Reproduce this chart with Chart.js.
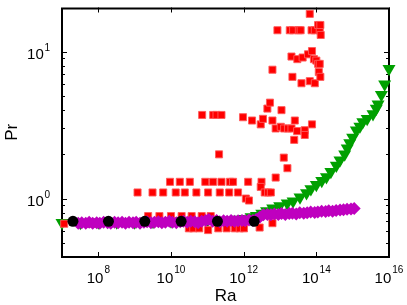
<!DOCTYPE html>
<html>
<head>
<meta charset="utf-8">
<script src="https://cdn.jsdelivr.net/npm/chart.js@4.4.1/dist/chart.umd.min.js"></script>
<style>
  html, body { margin: 0; padding: 0; background: #fff; }
  #chart { display: block; }
</style>
</head>
<body>
<canvas id="chart" width="407" height="305"></canvas>
<script>
// Axis ranges and ticks
const raRange = [1e7, 1e16];
const prRange = [0.4, 20];
const xTicks = [1e8, 1e10, 1e12, 1e14, 1e16];
const xTickExp = ['8', '10', '12', '14', '16'];
const yTicks = [1, 10];
const yTickExp = ['0', '1'];
const yMinorTicks = [0.5, 0.6, 0.7, 0.8, 0.9, 2, 3, 4, 5, 6, 7, 8, 9];

// Black circles [Ra, Pr]
const circlePoints = [
    [2e7, 0.70], [1.9e8, 0.70], [1.9e9, 0.70], [1.9e10, 0.70], [1.9e11, 0.70], [1.95e12, 0.70]
];

// Magenta diamonds
const diamondPoints = [
    [2.8e7, 0.68], [3.5e7, 0.685], [4.5e7, 0.68], [5.6e7, 0.69], [7e7, 0.68], [9e7, 0.685],
    [1.1e8, 0.68], [1.4e8, 0.69], [1.8e8, 0.685], [2.2e8, 0.68], [2.8e8, 0.69], [3.5e8, 0.685],
    [4.5e8, 0.69], [5.6e8, 0.68], [7e8, 0.69], [9e8, 0.685], [1.1e9, 0.69], [1.4e9, 0.68],
    [1.8e9, 0.69], [2.2e9, 0.695], [2.8e9, 0.685], [3.5e9, 0.69], [4.5e9, 0.695], [5.6e9, 0.685],
    [7e9, 0.69], [9e9, 0.70], [1.1e10, 0.69], [1.4e10, 0.685], [1.8e10, 0.695], [2.2e10, 0.70],
    [2.8e10, 0.69], [3.5e10, 0.70], [4.5e10, 0.695], [5.6e10, 0.685], [7e10, 0.70], [9e10, 0.71],
    [1.1e11, 0.72], [1.4e11, 0.70], [1.8e11, 0.71], [2.2e11, 0.695], [2.8e11, 0.705], [3.5e11, 0.70],
    [4.5e11, 0.71], [5.6e11, 0.70], [7e11, 0.705], [9e11, 0.71], [1.1e12, 0.705], [1.4e12, 0.715],
    [1.8e12, 0.71], [2.2e12, 0.72], [2.8e12, 0.75], [3.5e12, 0.775], [4.5e12, 0.78], [5.6e12, 0.775],
    [7e12, 0.785], [9e12, 0.78], [1.1e13, 0.79], [1.4e13, 0.78], [1.8e13, 0.79], [2.2e13, 0.795],
    [2.8e13, 0.785], [3.5e13, 0.80], [4.5e13, 0.795], [5.6e13, 0.80], [7e13, 0.81], [9e13, 0.805],
    [1.1e14, 0.81], [1.4e14, 0.82], [1.8e14, 0.815], [2.2e14, 0.825], [2.8e14, 0.82], [3.5e14, 0.83],
    [4.5e14, 0.835], [5.6e14, 0.84], [7e14, 0.845], [9e14, 0.85], [1.1e15, 0.855]
];

// Red squares
const squarePoints = [
    [6.6e13, 18.1],
    [8.5e12, 14.0], [1.86e13, 14.0], [2.3e13, 14.0], [3.3e13, 14.0], [3.7e13, 14.0],
    [7.4e13, 14.0], [9.1e13, 14.0], [1.24e14, 14.0], [1.12e14, 15.2], [1.29e14, 15.2], [1.32e14, 13.0],
    [2.07e13, 9.27], [3.0e13, 8.9], [4.2e13, 9.13], [5.9e13, 9.6], [7.6e13, 10.1], [8.6e13, 8.9],
    [1.0e14, 8.7], [1.12e14, 8.26], [1.24e14, 8.26], [6.2e12, 7.54],
    [2.2e13, 6.74], [3.9e13, 6.1], [6.6e13, 6.3], [9.1e13, 6.1], [1.17e14, 7.27], [1.29e14, 6.74],
    [7.2e10, 3.71], [1.45e11, 3.71], [1.79e11, 3.71], [2.45e11, 3.71],
    [9.6e11, 3.58], [1.7e12, 3.4], [2.95e12, 3.2], [3.4e12, 3.49], [4.5e12, 4.1], [5.3e12, 4.5],
    [1.1e13, 4.0], [6.2e12, 3.4], [7.6e12, 3.0], [1.05e13, 3.08], [1.3e13, 3.0], [1.66e13, 3.0],
    [2.07e13, 3.0], [2.56e13, 3.4], [2.46e13, 2.51], [2.96e13, 2.88], [4.8e13, 2.92], [4.8e13, 2.71],
    [7.6e13, 3.2],
    [2.1e11, 2.0], [1.27e13, 1.9], [1.6e13, 1.61], [7.6e12, 1.39],
    [9.4e9, 1.3], [1.75e10, 1.3], [3.3e10, 1.3], [8.8e10, 1.3], [1.44e11, 1.3], [2.45e11, 1.3],
    [4.2e11, 1.3], [5.1e11, 1.3], [1.33e12, 1.3], [3.1e12, 1.3], [2.95e12, 1.2],
    [1.2e9, 1.1], [3.1e9, 1.1], [6.1e9, 1.1], [1.35e10, 1.1], [2.4e10, 1.1], [5.0e10, 1.1],
    [1.05e11, 1.1], [2.2e11, 1.1], [4.0e11, 1.1], [7.0e11, 1.1], [3.8e12, 1.1], [4.7e12, 1.1],
    [5.6e12, 1.1], [1.15e12, 1.0], [1.4e12, 0.97],
    [2.35e9, 0.76], [4.8e9, 0.76], [1.0e10, 0.76], [1.96e10, 0.76], [3.7e10, 0.76], [7.0e10, 0.76],
    [1.24e11, 0.76],
    [3.1e10, 0.627], [4.1e10, 0.627], [6.0e10, 0.627], [1.05e11, 0.61], [2.0e11, 0.627],
    [3.4e11, 0.627], [5.7e11, 0.627], [7.8e11, 0.627], [1.02e12, 0.627], [2.75e12, 0.635],
    [6.2e12, 0.68],
    [1.15e7, 0.674], [5.3e7, 0.674], [9e7, 0.674]
];

// Green down-triangles
const trianglePoints = [
    [1e7, 0.685], [3.2e7, 0.685], [1e8, 0.69], [3.2e8, 0.69], [1e9, 0.69], [3.2e9, 0.695],
    [1e10, 0.70], [3.2e10, 0.70], [1e11, 0.705], [3.2e11, 0.71], [6.3e11, 0.72], [1e12, 0.73],
    [1.6e12, 0.75], [2.24e12, 0.764], [3.16e12, 0.79], [4.27e12, 0.824], [6.3e12, 0.86],
    [9.8e12, 0.89], [1.58e13, 0.93], [2.29e13, 0.96], [3.55e13, 1.02], [5.37e13, 1.09],
    [7.08e13, 1.16], [1e14, 1.24], [1.41e14, 1.32], [1.9e14, 1.40], [2.51e14, 1.52],
    [3.55e14, 1.68], [4.47e14, 1.82], [6.03e14, 2.0], [7.08e14, 2.2], [8.3e14, 2.39],
    [1e15, 2.6], [1.26e15, 2.92], [1.58e15, 3.1], [1.9e15, 3.32], [2.51e15, 3.5],
    [3.63e15, 3.77], [4.47e15, 4.1], [5.0e15, 4.38], [6.17e15, 5.1], [7.6e15, 6.0], [1e16, 7.65]
];

const FONT = '"Liberation Sans", Arial, Helvetica, sans-serif';

function toXY(list) {
    return list.map(p => ({ x: p[0], y: p[1] }));
}

// Frame plus inward ticks, MATLAB style
const framePlugin = {
    id: 'frame',
    beforeDatasetsDraw(chart) {
        const { ctx, chartArea: a, scales } = chart;
        ctx.save();
        ctx.strokeStyle = '#000';
        ctx.lineWidth = 1;
        xTicks.forEach(v => {
            const px = Math.round(scales.x.getPixelForValue(v)) + 0.5;
            ctx.beginPath();
            ctx.moveTo(px, a.bottom); ctx.lineTo(px, a.bottom - 5);
            ctx.moveTo(px, a.top); ctx.lineTo(px, a.top + 5);
            ctx.stroke();
        });
        yTicks.concat(yMinorTicks).forEach(v => {
            const len = yTicks.includes(v) ? 5 : 3;
            const py = Math.round(scales.y.getPixelForValue(v)) + 0.5;
            ctx.beginPath();
            ctx.moveTo(a.left, py); ctx.lineTo(a.left + len, py);
            ctx.moveTo(a.right, py); ctx.lineTo(a.right - len, py);
            ctx.stroke();
        });
        ctx.lineWidth = 2;
        ctx.strokeRect(a.left, a.top + 1, a.right - a.left, a.bottom - a.top - 1);
        ctx.restore();
    },
    afterDraw(chart) {
        const { ctx, chartArea: a, scales } = chart;
        ctx.save();
        ctx.fillStyle = '#000';
        ctx.textBaseline = 'alphabetic';
        // x tick labels 10^n
        xTicks.forEach((v, i) => {
            const px = scales.x.getPixelForValue(v);
            ctx.font = '15px ' + FONT;
            const wb = ctx.measureText('10').width;
            ctx.font = '10px ' + FONT;
            const we = ctx.measureText(xTickExp[i]).width;
            const x0 = px - (wb + 1 + we) / 2;
            ctx.textAlign = 'left';
            ctx.font = '15px ' + FONT;
            ctx.fillText('10', x0, 283);
            ctx.font = '10px ' + FONT;
            ctx.fillText(xTickExp[i], x0 + wb + 1, 273);
        });
        // y tick labels
        yTicks.forEach((v, i) => {
            const py = scales.y.getPixelForValue(v);
            ctx.textAlign = 'right';
            ctx.font = '10px ' + FONT;
            const we = ctx.measureText(yTickExp[i]).width;
            ctx.fillText(yTickExp[i], 50, py - 1);
            ctx.font = '15px ' + FONT;
            ctx.fillText('10', 50 - we - 0.7, py + 7);
        });
        // axis titles
        ctx.font = '17px ' + FONT;
        ctx.textAlign = 'center';
        ctx.fillText('Ra', (a.left + a.right) / 2, 301);
        ctx.translate(17, (a.top + a.bottom) / 2);
        ctx.rotate(-Math.PI / 2);
        ctx.fillText('Pr', 0, 0);
        ctx.restore();
    }
};

new Chart(document.getElementById('chart').getContext('2d'), {
    type: 'scatter',
    data: {
        datasets: [
            {
                data: toXY(circlePoints),
                pointStyle: 'circle', pointRadius: 5.5,
                backgroundColor: '#000', borderColor: '#000', borderWidth: 0,
                clip: false
            },
            {
                data: toXY(diamondPoints),
                pointStyle: 'rectRot', pointRadius: 6.5,
                backgroundColor: '#bf00bf', borderColor: '#bf00bf', borderWidth: 0,
                clip: false
            },
            {
                data: toXY(squarePoints),
                pointStyle: 'rect', pointRadius: 5,
                backgroundColor: '#ff0000', borderColor: 'rgba(255,90,90,0.9)', borderWidth: 1,
                clip: false
            },
            {
                data: toXY(trianglePoints),
                pointStyle: 'triangle', pointRotation: 180, pointRadius: 7.5,
                backgroundColor: '#00a000', borderColor: '#00a000', borderWidth: 0,
                clip: false
            }
        ]
    },
    options: {
        responsive: false,
        animation: false,
        devicePixelRatio: 1,
        layout: { padding: { top: 0, right: 18, left: 0, bottom: 0 } },
        plugins: { legend: { display: false }, tooltip: { enabled: false } },
        scales: {
            x: {
                type: 'logarithmic', min: raRange[0], max: raRange[1],
                ticks: { display: false }, grid: { display: false }, border: { display: false },
                afterFit: s => { s.height = 48; }
            },
            y: {
                type: 'logarithmic', min: prRange[0], max: prRange[1],
                ticks: { display: false }, grid: { display: false }, border: { display: false },
                afterFit: s => { s.width = 62; }
            }
        }
    },
    plugins: [framePlugin]
});
</script>
</body>
</html>
